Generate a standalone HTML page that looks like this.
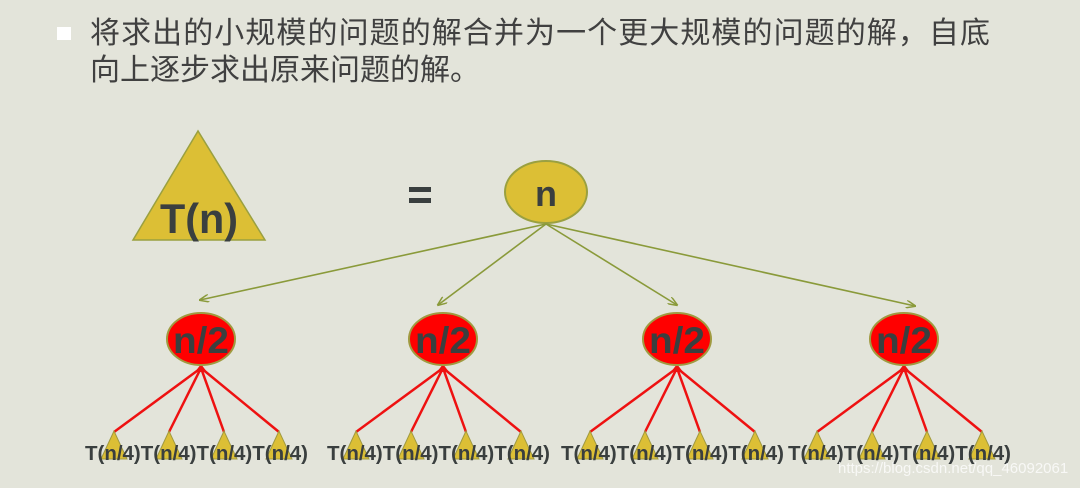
<!DOCTYPE html>
<html><head><meta charset="utf-8"><style>
html,body{margin:0;padding:0;background:#e3e4da;}
svg{display:block}
</style></head><body>
<svg width="1080" height="488" viewBox="0 0 1080 488" xmlns="http://www.w3.org/2000/svg">
<defs>
<marker id="ga" markerWidth="10" markerHeight="8" refX="9" refY="4" orient="auto" markerUnits="userSpaceOnUse"><path d="M0,0 L10,4 L0,8" fill="none" stroke="#8a9a3a" stroke-width="1.5"/></marker>
</defs>
<rect width="1080" height="488" fill="#e3e4da"/>
<rect x="57" y="27" width="14" height="13" fill="#ffffff"/>
<text font-family="'Liberation Sans','Noto Sans CJK SC',sans-serif" font-size="30" fill="#404040">
<tspan x="90" y="43" textLength="900">将求出的小规模的问题的解合并为一个更大规模的问题的解，自底</tspan>
<tspan x="90" y="80">向上逐步求出原来问题的解。</tspan></text>
<polygon points="198,131 133,240 265,240" fill="#dcbf35" stroke="#9aa040" stroke-width="1.5"/>
<text x="199" y="233" text-anchor="middle" textLength="78" lengthAdjust="spacingAndGlyphs" font-family="'Liberation Sans',sans-serif" font-weight="bold" font-size="42" fill="#3a3f3f">T(n)</text>
<rect x="409" y="187" width="22" height="5" fill="#3a3f3f"/><rect x="409" y="198" width="22" height="5" fill="#3a3f3f"/>
<ellipse cx="546" cy="192" rx="41" ry="31" fill="#dcbf35" stroke="#9aa040" stroke-width="2"/>
<text x="546" y="206" text-anchor="middle" font-family="'Liberation Sans',sans-serif" font-weight="bold" font-size="36" fill="#3a3f3f">n</text>
<g stroke="#8a9a3a" stroke-width="1.6" marker-end="url(#ga)">
<line x1="546" y1="224" x2="200" y2="300"/>
<line x1="546" y1="224" x2="438" y2="305"/>
<line x1="546" y1="224" x2="677" y2="305"/>
<line x1="546" y1="224" x2="915" y2="306"/>
</g>
<g id="g1">
<g stroke="#ee1111" stroke-width="2.5">
<line x1="201" y1="368" x2="114" y2="432"/>
<line x1="201" y1="368" x2="169" y2="432"/>
<line x1="201" y1="368" x2="224" y2="432"/>
<line x1="201" y1="368" x2="279" y2="432"/>
</g>
<polygon points="201,364 195,372 207,372" fill="#ee1111"/>
<ellipse cx="201" cy="339" rx="34" ry="26" fill="#ff0000" stroke="#a09a40" stroke-width="2"/>
<text x="201" y="353" text-anchor="middle" textLength="56" lengthAdjust="spacingAndGlyphs" font-family="'Liberation Sans',sans-serif" font-weight="bold" font-size="37" fill="#3a3f3f">n/2</text>
<g fill="#dcbf35" stroke="#a09a40" stroke-width="1">
<polygon points="114,431 101,459 127,459"/>
<polygon points="169,431 156,459 182,459"/>
<polygon points="224,431 211,459 237,459"/>
<polygon points="279,431 266,459 292,459"/>
</g>
<text x="85" y="460" textLength="223" lengthAdjust="spacingAndGlyphs" font-family="'Liberation Sans',sans-serif" font-weight="bold" font-size="20" fill="#3a3f3f">T(n/4)T(n/4)T(n/4)T(n/4)</text>
</g>
<use href="#g1" transform="translate(242,0)"/>
<use href="#g1" transform="translate(476,0)"/>
<use href="#g1" transform="translate(703,0)"/>
<text x="838" y="473" font-family="'Liberation Sans',sans-serif" font-size="15" fill="#ffffff" fill-opacity="0.75">https://blog.csdn.net/qq_46092061</text>
</svg>
</body></html>
